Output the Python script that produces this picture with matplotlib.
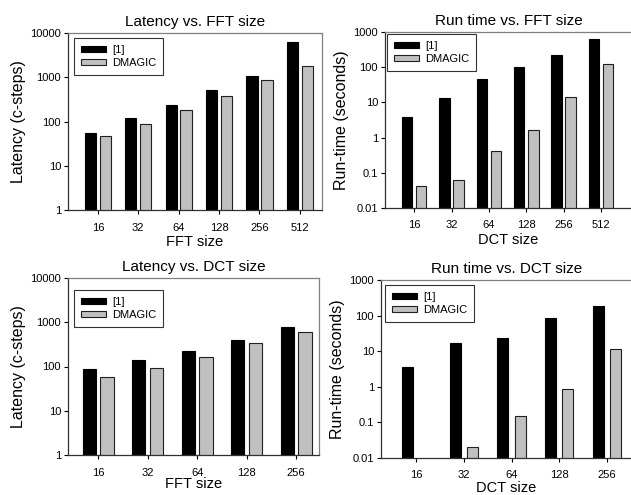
import numpy as np
import matplotlib.pyplot as plt

plt.rcParams['font.family'] = ['Liberation Sans', 'DejaVu Sans']

fft_sizes = ['16', '32', '64', '128', '256', '512']
dct_sizes = ['16', '32', '64', '128', '256']

lat_fft_ref = [54, 120, 232, 515, 1068, 6260]
lat_fft_dm = [46, 86, 179, 377, 851, 1796]

run_fft_ref = [3.8, 13.3, 45, 99, 227, 633]
run_fft_dm = [0.041, 0.062, 0.42, 1.64, 14.5, 126]

lat_dct_ref = [87, 139, 219, 395, 791]
lat_dct_dm = [59, 92, 163, 338, 599]

run_dct_ref = [3.6, 16.9, 24, 87, 185]
run_dct_dm = [np.nan, 0.020, 0.155, 0.87, 11.9]

W, H = 631, 495
fig = plt.figure(figsize=(W / 100, H / 100), dpi=100)


def panel(box, cats, ref, dm, title, xlabel, ylabel, ylim, xlim, bw, off, leg_xy,
          right_edge=False, xlpad=2):
    l, t, r, b = box
    ax = fig.add_axes([l / W, 1 - b / H, (r - l) / W, (b - t) / H])
    x = np.arange(len(cats))
    ax.bar(x - off, ref, bw, color='black', edgecolor='black', linewidth=0.8, label='[1]', zorder=2)
    ax.bar(x + off, dm, bw, color='#c0c0c0', edgecolor='#202020', linewidth=0.8, label='DMAGIC', zorder=2)
    ax.set_yscale('log')
    ax.set_ylim(*ylim)
    ax.set_xlim(*xlim)
    ax.yaxis.set_major_formatter(plt.FuncFormatter(lambda v, p: f'{v:g}'))
    ax.minorticks_off()
    ax.set_xticks(x)
    ax.set_xticklabels(cats)
    ax.tick_params(axis='x', direction='out', length=3, width=0.8, pad=6, labelsize=8)
    ax.tick_params(axis='y', direction='out', length=3, width=0.8, labelsize=8, pad=2)
    for s in ['left', 'bottom']:
        ax.spines[s].set_color('#303030')
        ax.spines[s].set_linewidth(0.9)
    for s in ['top', 'right']:
        ax.spines[s].set_color('#808080')
        ax.spines[s].set_linewidth(0.9)
    if right_edge:
        ax.spines['right'].set_visible(False)
    ax.set_title(title, fontsize=11, pad=5)
    ax.set_xlabel(xlabel, fontsize=10.5, labelpad=xlpad)
    ax.set_ylabel(ylabel, fontsize=11.5, labelpad=3)
    leg = ax.legend(loc='upper left', fontsize=8, frameon=True, fancybox=False,
                    bbox_to_anchor=(leg_xy[0] / W, 1 - leg_xy[1] / H),
                    bbox_transform=fig.transFigure, borderaxespad=0,
                    handlelength=2.3, handleheight=0.5, borderpad=0.6,
                    labelspacing=0.3, handletextpad=0.5)
    leg.get_frame().set_edgecolor('black')
    leg.get_frame().set_linewidth(0.8)
    return ax


panel((68, 33, 322, 210), fft_sizes, lat_fft_ref, lat_fft_dm,
      'Latency vs. FFT size', 'FFT size', 'Latency (c-steps)', (1, 10000), (-0.74, 5.55),
      0.28, 0.185, (74, 38))
panel((385, 32, 632, 208), fft_sizes, run_fft_ref, run_fft_dm,
      'Run time vs. FFT size', 'DCT size', 'Run-time (seconds)', (0.01, 1000), (-0.78, 5.83),
      0.28, 0.19, (387, 34), True)
panel((68, 278, 319, 455), dct_sizes, lat_dct_ref, lat_dct_dm,
      'Latency vs. DCT size', 'FFT size', 'Latency (c-steps)', (1, 10000), (-0.61, 4.46),
      0.27, 0.18, (74, 290), xlpad=0)
panel((381, 280, 632, 458), dct_sizes, run_dct_ref, run_dct_dm,
      'Run time vs. DCT size', 'DCT size', 'Run-time (seconds)', (0.01, 1000), (-0.74, 4.53),
      0.23, 0.18, (385, 285), True, xlpad=0)

fig.savefig('out.png', dpi=100)
